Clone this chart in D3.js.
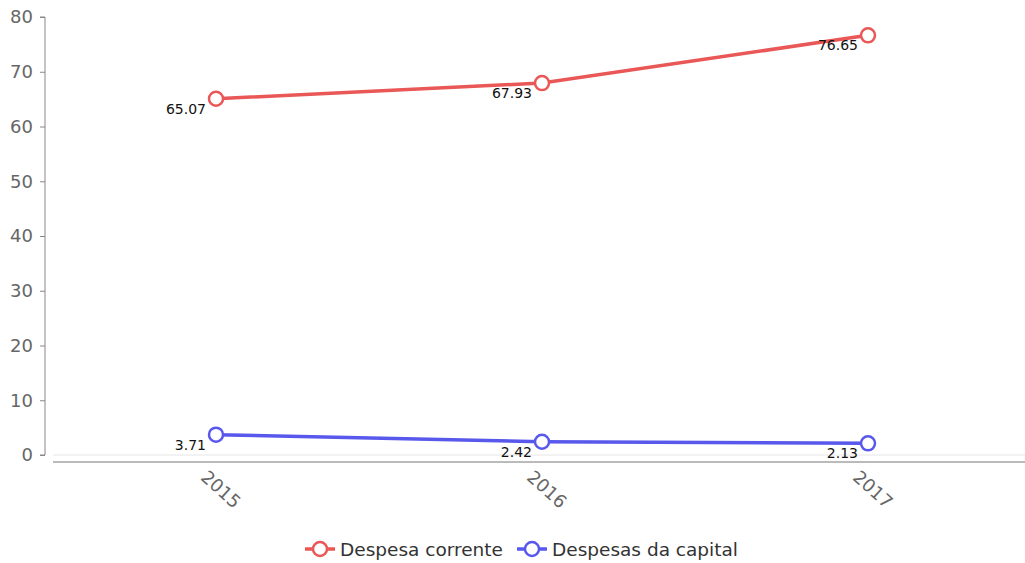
<!DOCTYPE html>
<html>
<head>
<meta charset="utf-8">
<script src="https://cdn.jsdelivr.net/npm/d3@7"></script>
<style>
    body { margin: 0; background: #fff; }
</style>
</head>
<body>
<div id="chart"></div>
<script>
// data
let years = ["2015", "2016", "2017"];
let seriesNames = ["Despesa corrente", "Despesas da capital"];
let despesaCorrente = [65.07, 67.93, 76.65];
let despesasCapital = [3.71, 2.42, 2.13];
let yTicks = [0, 10, 20, 30, 40, 50, 60, 70, 80];
let colors = ["#e95757", "#5858ec"];

let font = "'DejaVu Sans', Verdana, sans-serif";
let width = 1025, height = 563;
let margin = {top: 17, right: -6, bottom: 108, left: 53};

let svg = d3.select("#chart").append("svg")
    .attr("width", width)
    .attr("height", height);

let x = d3.scaleBand()
    .domain(years)
    .range([margin.left, width - margin.right]);

let y = d3.scaleLinear()
    .domain([0, 80])
    .range([height - margin.bottom, margin.top]);

// light zero line
svg.append("line")
    .attr("x1", margin.left).attr("x2", width)
    .attr("y1", y(0)).attr("y2", y(0))
    .attr("stroke", "#e6e6e6");

// y axis
let yAxis = svg.append("g")
    .attr("transform", `translate(45,0)`)
    .call(d3.axisLeft(y).tickValues(yTicks).tickSize(5).tickPadding(7));
yAxis.select(".domain").attr("stroke", "#888").attr("d", `M-5,${y(80)}H0V${y(0)}H-5`);
yAxis.selectAll(".tick line").attr("stroke", "#888");
yAxis.selectAll(".tick text")
    .attr("fill", "#666")
    .style("font-family", font)
    .style("font-size", "18px");

// x axis
let xAxis = svg.append("g")
    .attr("transform", `translate(0,${y(0) + 7})`)
    .call(d3.axisBottom(x).tickSize(0));
xAxis.select(".domain").attr("stroke", "#777").attr("d", `M${margin.left},0H${width}`);
xAxis.selectAll(".tick text")
    .attr("fill", "#666")
    .style("font-family", font)
    .style("font-size", "18px")
    .attr("text-anchor", "start")
    .attr("transform", "translate(-12,12) rotate(42)")
    .attr("dy", "0.35em")
    .attr("y", 0);

let allSeries = [despesaCorrente, despesasCapital];

let line = d3.line()
    .x((d, i) => x(years[i]) + x.bandwidth() / 2)
    .y(d => y(d));

allSeries.forEach((vals, s) => {
    svg.append("path")
        .datum(vals)
        .attr("fill", "none")
        .attr("stroke", colors[s])
        .attr("stroke-width", 3.5)
        .attr("d", line);

    svg.selectAll(".pt" + s)
        .data(vals)
        .enter().append("circle")
        .attr("cx", (d, i) => x(years[i]) + x.bandwidth() / 2)
        .attr("cy", d => y(d))
        .attr("r", 7)
        .attr("fill", "#fff")
        .attr("stroke", colors[s])
        .attr("stroke-width", 2.5);

    svg.selectAll(".lbl" + s)
        .data(vals)
        .enter().append("text")
        .attr("x", (d, i) => x(years[i]) + x.bandwidth() / 2 - 10)
        .attr("y", d => y(d) + 15)
        .attr("text-anchor", "end")
        .style("font-family", font)
        .style("font-size", "14px")
        .attr("fill", "#111")
        .text(d => d.toFixed(2));
});

// legend
let legend = svg.append("g").attr("transform", "translate(305,549)");
let legendX = [0, 212];
seriesNames.forEach((name, s) => {
    let g = legend.append("g").attr("transform", `translate(${legendX[s]},0)`);
    g.append("line")
        .attr("x1", 0).attr("x2", 30)
        .attr("stroke", colors[s]).attr("stroke-width", 3.5);
    g.append("circle")
        .attr("cx", 15).attr("r", 7)
        .attr("fill", "#fff")
        .attr("stroke", colors[s]).attr("stroke-width", 2.5);
    g.append("text")
        .attr("x", 35).attr("dy", "0.36em")
        .style("font-family", font)
        .style("font-size", "18.5px")
        .attr("fill", "#333")
        .text(name);
});
</script>
</body>
</html>
